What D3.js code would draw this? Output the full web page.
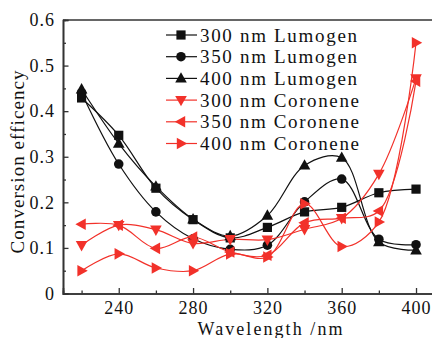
<!DOCTYPE html>
<html>
<head>
<meta charset="utf-8">
<script src="https://cdn.jsdelivr.net/npm/d3@7"></script>
<style>
  html, body { margin: 0; padding: 0; background: #fff; }
  svg { display: block; font-family: "Liberation Serif", "Times New Roman", serif; }
</style>
</head>
<body>
<div id="chart"></div>
<script>
"use strict";

var wavelengths = [220, 240, 260, 280, 300, 320, 340, 360, 380, 400];
var lumogen300 = [0.429, 0.347, 0.231, 0.162, 0.122, 0.145, 0.179, 0.189, 0.221, 0.229];
var lumogen350 = [0.440, 0.284, 0.179, 0.120, 0.097, 0.106, 0.201, 0.251, 0.119, 0.107];
var lumogen400 = [0.448, 0.329, 0.235, 0.163, 0.126, 0.171, 0.281, 0.298, 0.113, 0.095];
var coronene300 = [0.106, 0.150, 0.140, 0.110, 0.119, 0.118, 0.141, 0.165, 0.262, 0.472];
var coronene350 = [0.152, 0.150, 0.099, 0.124, 0.091, 0.084, 0.155, 0.165, 0.181, 0.466];
var coronene400 = [0.050, 0.087, 0.056, 0.050, 0.087, 0.080, 0.197, 0.103, 0.157, 0.550];

var seriesNames = ["300 nm Lumogen", "350 nm Lumogen", "400 nm Lumogen",
                   "300 nm Coronene", "350 nm Coronene", "400 nm Coronene"];
var xMajorTicks = [240, 280, 320, 360, 400];
var xMinorTicks = [220, 260, 300, 340, 380];
var yMajorTicks = [0, 0.1, 0.2, 0.3, 0.4, 0.5, 0.6];
var yMinorTicks = [0.05, 0.15, 0.25, 0.35, 0.45, 0.55];

var W = 432, H = 338;
var black = "#111", red = "#f2312a";
var serif = "Liberation Serif";

var series = [
    { name: seriesNames[0], values: lumogen300, color: black, shape: "square" },
    { name: seriesNames[1], values: lumogen350, color: black, shape: "circle" },
    { name: seriesNames[2], values: lumogen400, color: black, shape: "up" },
    { name: seriesNames[3], values: coronene300, color: red, shape: "down" },
    { name: seriesNames[4], values: coronene350, color: red, shape: "left" },
    { name: seriesNames[5], values: coronene400, color: red, shape: "right" }
];

var x = d3.scaleLinear().domain([210, 410]).range([63, 434.6]);
var y = d3.scaleLinear().domain([0, 0.6]).range([293.5, 20]);

var svg = d3.select("#chart").append("svg").attr("width", W).attr("height", H);

// marker path centred at 0,0
function marker(shape) {
    var s = 4.6;
    if (shape === "square") return "M" + (-s) + "," + (-s) + "h" + 2 * s + "v" + 2 * s + "h" + (-2 * s) + "Z";
    if (shape === "up") return "M0,-6.2L5.8,4.2L-5.8,4.2Z";
    if (shape === "down") return "M0,6.2L5.8,-4.2L-5.8,-4.2Z";
    if (shape === "left") return "M-6.2,0L4.2,-5.8L4.2,5.8Z";
    if (shape === "right") return "M6.2,0L-4.2,-5.8L-4.2,5.8Z";
    return d3.symbol(d3.symbolCircle, 72)();
}

// axes
var axisG = svg.append("g").attr("class", "axes");

axisG.append("g").attr("transform", "translate(0," + y(0) + ")")
    .call(d3.axisBottom(x).tickValues(xMajorTicks).tickSize(-5.5).tickPadding(7.5).tickFormat(d3.format("d")));
axisG.append("g").attr("transform", "translate(0," + y(0) + ")")
    .call(d3.axisBottom(x).tickValues(xMinorTicks).tickSize(-3).tickFormat(""));
axisG.append("g").attr("transform", "translate(" + x(210) + ",0)")
    .call(d3.axisLeft(y).tickValues(yMajorTicks).tickSize(-5.5).tickPadding(8)
        .tickFormat(function (d) { return d === 0 ? "0" : d3.format(".1f")(d); }));
axisG.append("g").attr("transform", "translate(" + x(210) + ",0)")
    .call(d3.axisLeft(y).tickValues(yMinorTicks).tickSize(-3).tickFormat(""));

axisG.selectAll(".domain").attr("stroke", "#333").attr("stroke-width", 1.6);
axisG.selectAll(".tick line").attr("stroke", "#333").attr("stroke-width", 1.3);
axisG.selectAll(".tick text")
    .attr("font-family", serif).attr("font-size", "18px")
    .attr("letter-spacing", "1px").attr("fill", "#111");

// top frame line
axisG.append("line")
    .attr("x1", x(210)).attr("x2", W)
    .attr("y1", y(0.6)).attr("y2", y(0.6))
    .attr("stroke", "#333").attr("stroke-width", 1.6);

// axis titles
svg.append("text")
    .attr("x", 270).attr("y", 334.5)
    .attr("text-anchor", "middle")
    .attr("font-family", serif).attr("font-size", "18px").attr("fill", "#111")
    .attr("textLength", 145).attr("lengthAdjust", "spacing")
    .text("Wavelength /nm");

svg.append("text")
    .attr("transform", "translate(24,162) rotate(-90)")
    .attr("text-anchor", "middle")
    .attr("font-family", serif).attr("font-size", "19px").attr("fill", "#111")
    .attr("textLength", 183).attr("lengthAdjust", "spacing")
    .text("Conversion efficency");

// curves and markers
var line = d3.line()
    .x(function (d, i) { return x(wavelengths[i]); })
    .y(function (d) { return y(d); })
    .curve(d3.curveCatmullRom.alpha(0.5));

var plot = svg.append("g").attr("class", "plot");

series.forEach(function (s) {
    plot.append("path")
        .attr("d", line(s.values))
        .attr("fill", "none")
        .attr("stroke", s.color)
        .attr("stroke-width", 1.2);
});

series.forEach(function (s) {
    plot.selectAll(null)
        .data(s.values)
        .enter().append("path")
        .attr("transform", function (d, i) { return "translate(" + x(wavelengths[i]) + "," + y(d) + ")"; })
        .attr("d", marker(s.shape))
        .attr("fill", s.color);
});

// legend
var legend = svg.append("g").attr("class", "legend");
var legendTop = 35, legendStep = 21.7;

series.forEach(function (s, i) {
    var g = legend.append("g").attr("transform", "translate(0," + (legendTop + i * legendStep) + ")");
    g.append("line").attr("x1", 166).attr("x2", 197).attr("y1", 0).attr("y2", 0)
        .attr("stroke", s.color).attr("stroke-width", 1.2);
    g.append("path").attr("transform", "translate(181,0)").attr("d", marker(s.shape)).attr("fill", s.color);
    g.append("text").attr("x", 200).attr("y", 6.5)
        .attr("font-family", serif).attr("font-size", "19px").attr("fill", "#111")
        .attr("textLength", i < 3 ? 157 : 159).attr("lengthAdjust", "spacing")
        .text(s.name);
});
</script>
</body>
</html>
